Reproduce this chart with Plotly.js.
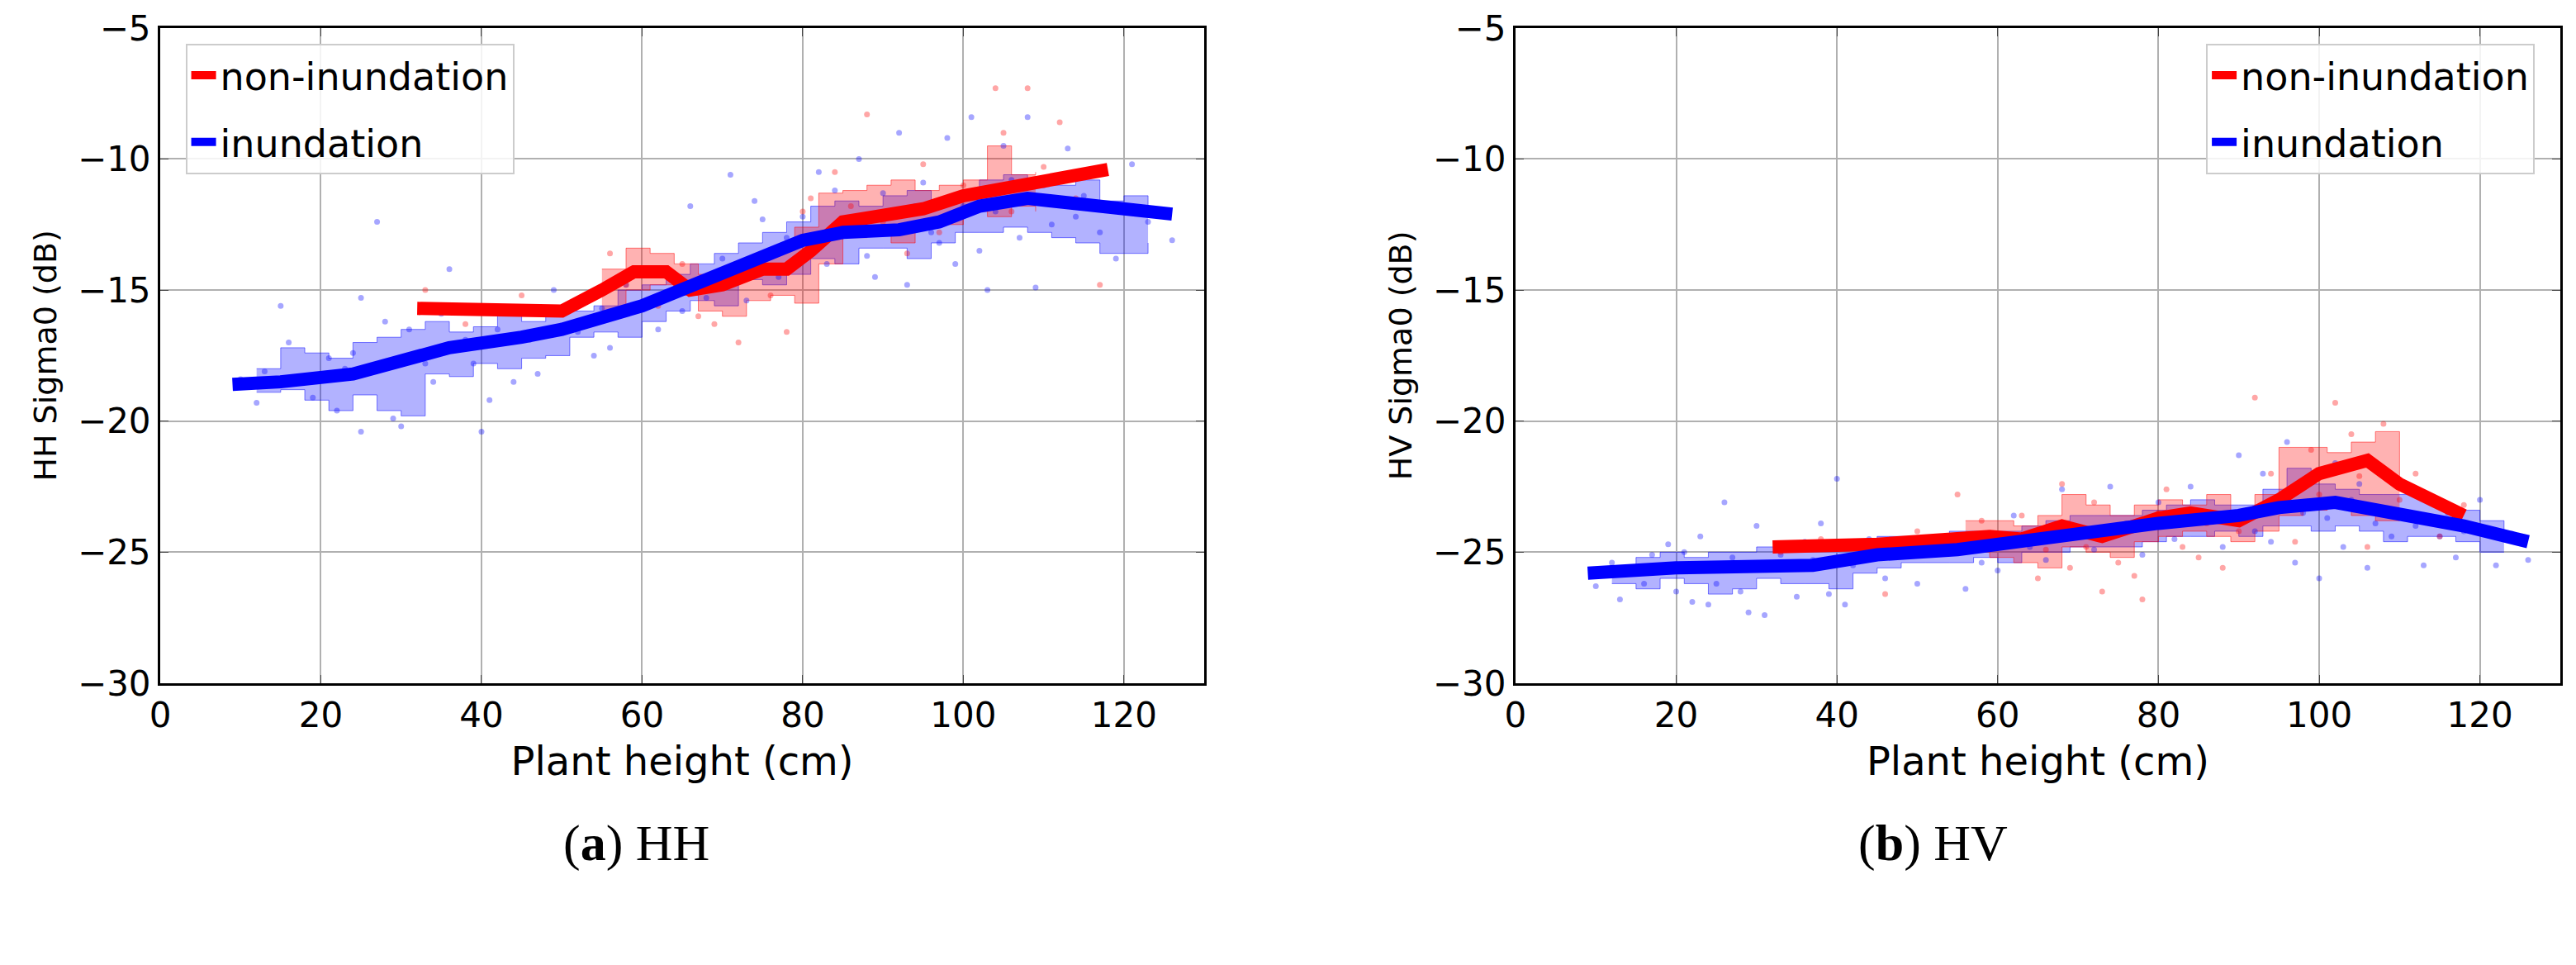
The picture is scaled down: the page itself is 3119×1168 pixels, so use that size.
<!DOCTYPE html>
<html>
<head>
<meta charset="utf-8">
<script src="https://cdn.plot.ly/plotly-3.0.1.min.js"></script>
<style>body{margin:0;background:#fff}#chart{width:3119px;height:1168px}</style>
</head>
<body>
<div id="chart"></div>
<script>
// ---- HH panel ----
const hhNonX = [32, 50, 55, 59, 63, 66, 70, 75, 78, 81, 85, 90, 95, 100, 105, 110, 118];
const hhNonY = [-15.7, -15.8, -15, -14.3, -14.3, -15, -14.8, -14.2, -14.2, -13.5, -12.4, -12.2, -11.9, -11.4, -11.1, -10.9, -10.4];
const hhInuX = [9, 15, 24, 30, 36, 45, 50, 60, 70, 80, 85, 92, 97, 102, 108, 115, 126];
const hhInuY = [-18.6, -18.5, -18.2, -17.7, -17.2, -16.8, -16.5, -15.6, -14.4, -13.1, -12.8, -12.7, -12.4, -11.8, -11.5, -11.7, -12.1];

const hhNonBandX = [55, 58, 61, 64, 67, 70, 73, 76, 79, 82, 85, 88, 91, 94, 97, 100, 103, 106, 109];
const hhNonBandLo = [-15.8, -15.0, -14.8, -15.2, -15.8, -16.0, -15.4, -15.2, -15.5, -14.0, -13.0, -12.8, -13.2, -12.6, -12.5, -12.0, -12.2, -11.8, -12.0];
const hhNonBandHi = [-14.2, -13.4, -13.6, -14.0, -14.4, -14.2, -13.8, -13.4, -12.6, -11.3, -11.2, -11.0, -10.8, -11.2, -11.0, -10.8, -9.5, -10.6, -10.5];

const hhInuBandX = [12, 15, 18, 21, 24, 27, 30, 33, 36, 39, 42, 45, 48, 51, 54, 57, 60, 63, 66, 69, 72, 75, 78, 81, 84, 87, 90, 93, 96, 99, 102, 105, 108, 111, 114, 117, 120, 123];
const hhInuBandLo = [-18.9, -18.8, -19.2, -19.6, -19.0, -19.6, -19.8, -18.2, -18.3, -17.8, -18.0, -17.6, -17.5, -16.8, -16.6, -16.8, -16.2, -15.8, -15.4, -15.6, -14.6, -14.8, -14.4, -13.8, -14.0, -13.4, -13.4, -13.8, -13.2, -12.8, -12.8, -12.6, -12.8, -13.0, -13.2, -13.6, -13.6, -13.2];
const hhInuBandHi = [-18.0, -17.2, -17.4, -17.6, -17.0, -16.8, -16.5, -16.2, -16.6, -16.4, -15.8, -16.2, -15.8, -15.8, -15.6, -15.0, -14.8, -14.4, -14.0, -13.6, -13.2, -12.8, -12.4, -11.8, -11.6, -11.8, -11.4, -11.2, -11.6, -11.4, -10.8, -10.6, -10.8, -11.0, -10.8, -11.6, -11.4, -11.8];

const hhNonPtsX = [33, 38, 45, 52, 56, 58, 62, 65, 67, 69, 71, 72, 74, 76, 78, 79, 80, 81, 83, 84, 86, 88, 90, 93, 95, 97, 100, 102, 104, 105, 106, 108, 110, 112, 114, 117];
const hhNonPtsY = [-15.0, -16.3, -15.2, -15.6, -13.6, -14.8, -15.6, -14.0, -16.0, -16.3, -14.2, -17.0, -13.8, -15.2, -16.6, -14.0, -12.0, -11.5, -12.8, -10.5, -11.8, -8.3, -12.4, -13.6, -10.2, -12.8, -11.0, -11.2, -7.3, -9.0, -12.0, -7.3, -10.3, -8.6, -11.5, -14.8];
const hhInuPtsX = [10, 12, 13, 15, 16, 17, 19, 20, 21, 22, 23, 24, 25, 25, 27, 28, 29, 30, 31, 33, 34, 35, 36, 38, 39, 40, 41, 42, 44, 46, 47, 49, 52, 54, 55, 56, 58, 60, 62, 63, 65, 66, 68, 70, 71, 73, 74, 75, 77, 78, 80, 82, 83, 84, 86, 87, 88, 89, 90, 91, 92, 93, 94, 95, 96, 97, 98, 99, 100, 101, 102, 103, 104, 105, 106, 107, 108, 109, 110, 111, 112, 113, 114, 115, 117, 119, 121, 123, 126];
const hhInuPtsY = [-18.4, -19.3, -18.1, -15.6, -17.0, -18.5, -19.1, -18.2, -17.6, -19.6, -18.0, -17.4, -20.4, -15.3, -12.4, -16.2, -19.9, -20.2, -16.5, -17.8, -18.5, -15.9, -14.2, -16.9, -17.8, -20.4, -19.2, -16.5, -18.5, -16.9, -18.2, -15.0, -16.6, -17.5, -15.7, -17.2, -14.8, -15.5, -16.5, -14.4, -15.8, -11.8, -15.3, -13.8, -10.6, -15.4, -11.6, -12.3, -14.5, -13.0, -12.2, -10.5, -14.0, -11.2, -12.8, -10.0, -13.7, -14.5, -11.3, -12.6, -9.0, -14.8, -11.8, -10.9, -12.8, -13.2, -9.2, -14.0, -11.8, -8.4, -13.5, -15.0, -12.0, -9.5, -10.8, -13.0, -8.4, -14.9, -11.0, -12.5, -10.6, -9.6, -12.2, -11.4, -12.8, -13.8, -10.2, -12.4, -13.1];

// ---- HV panel ----
const hvNonX = [32, 45, 59, 63, 68, 73, 80, 84, 90, 95, 100, 106, 110, 118];
const hvNonY = [-24.8, -24.7, -24.4, -24.5, -24.0, -24.4, -23.7, -23.5, -23.8, -23.0, -22.0, -21.5, -22.4, -23.6];
const hvInuX = [9, 20, 37, 45, 55, 62, 70, 80, 90, 95, 102, 110, 118, 126];
const hvInuY = [-25.8, -25.6, -25.5, -25.1, -24.9, -24.6, -24.3, -23.9, -23.6, -23.3, -23.1, -23.5, -24.0, -24.6];

const hvNonBandX = [56, 59, 62, 65, 68, 71, 74, 77, 80, 83, 86, 89, 92, 95, 98, 101, 104, 107, 110];
const hvNonBandLo = [-25.0, -25.2, -25.4, -25.6, -24.8, -25.0, -25.2, -24.6, -24.4, -24.2, -24.4, -24.6, -24.2, -23.6, -23.4, -23.2, -23.6, -23.8, -23.6];
const hvNonBandHi = [-23.8, -23.8, -24.0, -23.6, -22.8, -23.2, -23.6, -23.2, -23.0, -23.2, -22.8, -23.4, -22.8, -21.0, -21.0, -21.2, -20.8, -20.4, -22.4];
const hvInuBandX = [12, 15, 18, 21, 24, 27, 30, 33, 36, 39, 42, 45, 48, 51, 54, 57, 60, 63, 66, 69, 72, 75, 78, 81, 84, 87, 90, 93, 96, 99, 102, 105, 108, 111, 114, 117, 120, 123];
const hvInuBandLo = [-26.2, -26.4, -26.0, -26.2, -26.6, -26.4, -26.0, -26.2, -26.2, -26.4, -25.8, -25.6, -25.4, -25.4, -25.4, -25.2, -25.4, -25.0, -25.0, -24.8, -24.8, -24.8, -24.6, -24.4, -24.4, -24.2, -24.4, -24.0, -24.0, -24.2, -24.0, -24.2, -24.6, -24.4, -24.4, -24.6, -25.0, -25.0];
const hvInuBandHi = [-25.6, -25.2, -25.0, -25.2, -25.0, -25.0, -24.8, -24.6, -24.8, -24.8, -24.6, -24.4, -24.4, -24.4, -24.2, -24.2, -24.2, -24.0, -23.8, -23.6, -23.6, -23.6, -23.4, -23.2, -23.0, -23.2, -23.2, -22.6, -21.8, -22.4, -22.6, -22.8, -22.8, -22.8, -23.2, -23.4, -23.8, -24.2];

const hvNonPtsX = [33, 38, 46, 50, 55, 58, 61, 63, 65, 66, 68, 69, 71, 72, 73, 75, 76, 77, 78, 80, 81, 83, 85, 86, 88, 90, 92, 94, 95, 97, 99, 100, 102, 104, 105, 106, 108, 110, 112, 115, 118];
const hvNonPtsY = [-25.0, -24.5, -26.6, -24.2, -22.8, -23.8, -24.6, -23.6, -26.0, -24.9, -22.4, -25.6, -24.8, -23.1, -26.5, -25.4, -24.2, -25.9, -26.8, -23.5, -22.6, -24.8, -25.2, -23.9, -25.6, -24.2, -19.1, -22.0, -23.4, -24.6, -21.1, -22.8, -19.3, -20.5, -22.1, -24.8, -20.1, -23.0, -22.0, -24.4, -23.2];
const hvInuPtsX = [10, 12, 13, 14, 16, 17, 19, 20, 21, 22, 23, 24, 25, 26, 27, 28, 29, 30, 31, 33, 34, 35, 36, 37, 38, 39, 40, 41, 42, 44, 46, 48, 50, 52, 54, 56, 58, 60, 62, 64, 66, 68, 70, 72, 74, 76, 78, 80, 82, 84, 86, 88, 90, 91, 92, 93, 94, 95, 96, 97, 98, 99, 100, 101, 102, 103, 104, 105, 106, 107, 108, 109, 110, 111, 112, 113, 114, 115, 116, 117, 118, 120, 122, 124, 126];
const hvInuPtsY = [-26.3, -25.4, -26.8, -25.6, -26.2, -25.1, -24.7, -26.5, -25.0, -26.9, -24.4, -27.0, -26.2, -23.1, -25.2, -26.5, -27.3, -24.0, -27.4, -25.1, -24.9, -26.7, -24.6, -25.3, -23.9, -26.6, -22.2, -27.0, -25.5, -24.5, -26.0, -24.8, -26.2, -25.0, -24.4, -26.4, -25.4, -25.7, -23.6, -24.8, -25.3, -22.6, -24.1, -24.9, -22.5, -23.9, -25.1, -23.1, -24.5, -22.5, -23.6, -24.8, -21.3, -23.4, -24.2, -22.0, -24.6, -23.2, -20.8, -25.4, -23.5, -22.2, -26.0, -23.7, -21.6, -24.8, -23.0, -22.4, -25.6, -23.9, -21.8, -24.4, -23.6, -22.6, -24.0, -25.5, -22.9, -24.4, -23.5, -25.2, -24.2, -23.0, -25.5, -24.3, -25.3];

const RED = 'rgb(255,0,0)', BLUE = 'rgb(0,0,255)';
const RED_FILL = 'rgba(255,0,0,0.3)', BLUE_FILL = 'rgba(0,0,255,0.3)';

function panel(xa, ya, leg, d) {
  const out = [];
  function band(x, lo, hi, line, fill) {
    out.push({x: x, y: lo, xaxis: xa, yaxis: ya, mode: 'lines', line: {color: line, width: 1, shape: 'hv'}, showlegend: false, hoverinfo: 'skip'});
    out.push({x: x, y: hi, xaxis: xa, yaxis: ya, mode: 'lines', fill: 'tonexty', fillcolor: fill, line: {color: line, width: 1, shape: 'hv'}, showlegend: false, hoverinfo: 'skip'});
  }
  band(d.ibx, d.ibl, d.ibh, 'rgba(0,0,255,0.5)', BLUE_FILL);
  band(d.nbx, d.nbl, d.nbh, 'rgba(255,0,0,0.5)', RED_FILL);
  out.push({x: d.ipx, y: d.ipy, xaxis: xa, yaxis: ya, mode: 'markers', marker: {color: 'rgba(0,0,255,0.35)', size: 7}, showlegend: false});
  out.push({x: d.npx, y: d.npy, xaxis: xa, yaxis: ya, mode: 'markers', marker: {color: 'rgba(255,0,0,0.35)', size: 7}, showlegend: false});
  out.push({x: d.nx, y: d.ny, xaxis: xa, yaxis: ya, mode: 'lines', name: 'non-inundation', legendgroup: leg + 'n', line: {color: RED, width: 16}, legend: leg});
  out.push({x: d.ix, y: d.iy, xaxis: xa, yaxis: ya, mode: 'lines', name: 'inundation', legendgroup: leg + 'i', line: {color: BLUE, width: 16}, legend: leg});
  return out;
}

const data = [].concat(
  panel('x', 'y', 'legend', {nx: hhNonX, ny: hhNonY, ix: hhInuX, iy: hhInuY,
    nbx: hhNonBandX, nbl: hhNonBandLo, nbh: hhNonBandHi, ibx: hhInuBandX, ibl: hhInuBandLo, ibh: hhInuBandHi,
    npx: hhNonPtsX, npy: hhNonPtsY, ipx: hhInuPtsX, ipy: hhInuPtsY}),
  panel('x2', 'y2', 'legend2', {nx: hvNonX, ny: hvNonY, ix: hvInuX, iy: hvInuY,
    nbx: hvNonBandX, nbl: hvNonBandLo, nbh: hvNonBandHi, ibx: hvInuBandX, ibl: hvInuBandLo, ibh: hvInuBandHi,
    npx: hvNonPtsX, npy: hvNonPtsY, ipx: hvInuPtsX, ipy: hvInuPtsY})
);

const font = {family: 'DejaVu Sans', size: 42, color: '#000'};
function xax(domain, anchor) {
  return {domain: domain, anchor: anchor, range: [0, 130], tickvals: [0, 20, 40, 60, 80, 100, 120],
    ticks: 'inside', ticklen: 10, showline: true, mirror: 'ticks', linecolor: '#000', linewidth: 3,
    showgrid: true, gridcolor: '#b0b0b0', gridwidth: 2, zeroline: false, tickfont: font,
    title: {text: 'Plant height (cm)', font: {family: 'DejaVu Sans', size: 48, color: '#000'}, standoff: 16}};
}
function yax(domain, anchor, t) {
  return {domain: domain, anchor: anchor, range: [-30, -5], tickvals: [-30, -25, -20, -15, -10, -5],
    ticks: 'inside', ticklen: 10, showline: true, mirror: 'ticks', linecolor: '#000', linewidth: 3,
    showgrid: true, gridcolor: '#b0b0b0', gridwidth: 2, zeroline: false, tickfont: font,
    title: {text: t, font: {family: 'DejaVu Sans', size: 38, color: '#000'}, standoff: 14}};
}
const legStyle = {bgcolor: 'rgba(255,255,255,0.85)', bordercolor: '#ccc', borderwidth: 2, traceorder: 'grouped',
  font: {family: 'DejaVu Sans', size: 46, color: '#000'}, tracegroupgap: 18};

const layout = {
  width: 3119, height: 1168, margin: {l: 0, r: 0, t: 0, b: 0},
  paper_bgcolor: '#fff', plot_bgcolor: '#fff', showlegend: true,
  xaxis: xax([0.0622, 0.4675], 'y'),
  yaxis: yax([0.292, 0.971], 'x', 'HH Sigma0 (dB)'),
  xaxis2: xax([0.5883, 0.9939], 'y2'),
  yaxis2: yax([0.292, 0.971], 'x2', 'HV Sigma0 (dB)'),
  legend: Object.assign({x: 0.072, y: 0.955, xanchor: 'left', yanchor: 'top'}, legStyle),
  legend2: Object.assign({x: 0.984, y: 0.955, xanchor: 'right', yanchor: 'top'}, legStyle),
  annotations: [
    {text: '(<b>a</b>) HH', xref: 'paper', yref: 'paper', x: 0.218, y: 0.095, showarrow: false,
      font: {family: 'Liberation Serif', size: 62, color: '#000'}},
    {text: '(<b>b</b>) HV', xref: 'paper', yref: 'paper', x: 0.78, y: 0.095, showarrow: false,
      font: {family: 'Liberation Serif', size: 62, color: '#000'}}
  ]
};

Plotly.newPlot('chart', data, layout, {staticPlot: true});
</script>
</body>
</html>
